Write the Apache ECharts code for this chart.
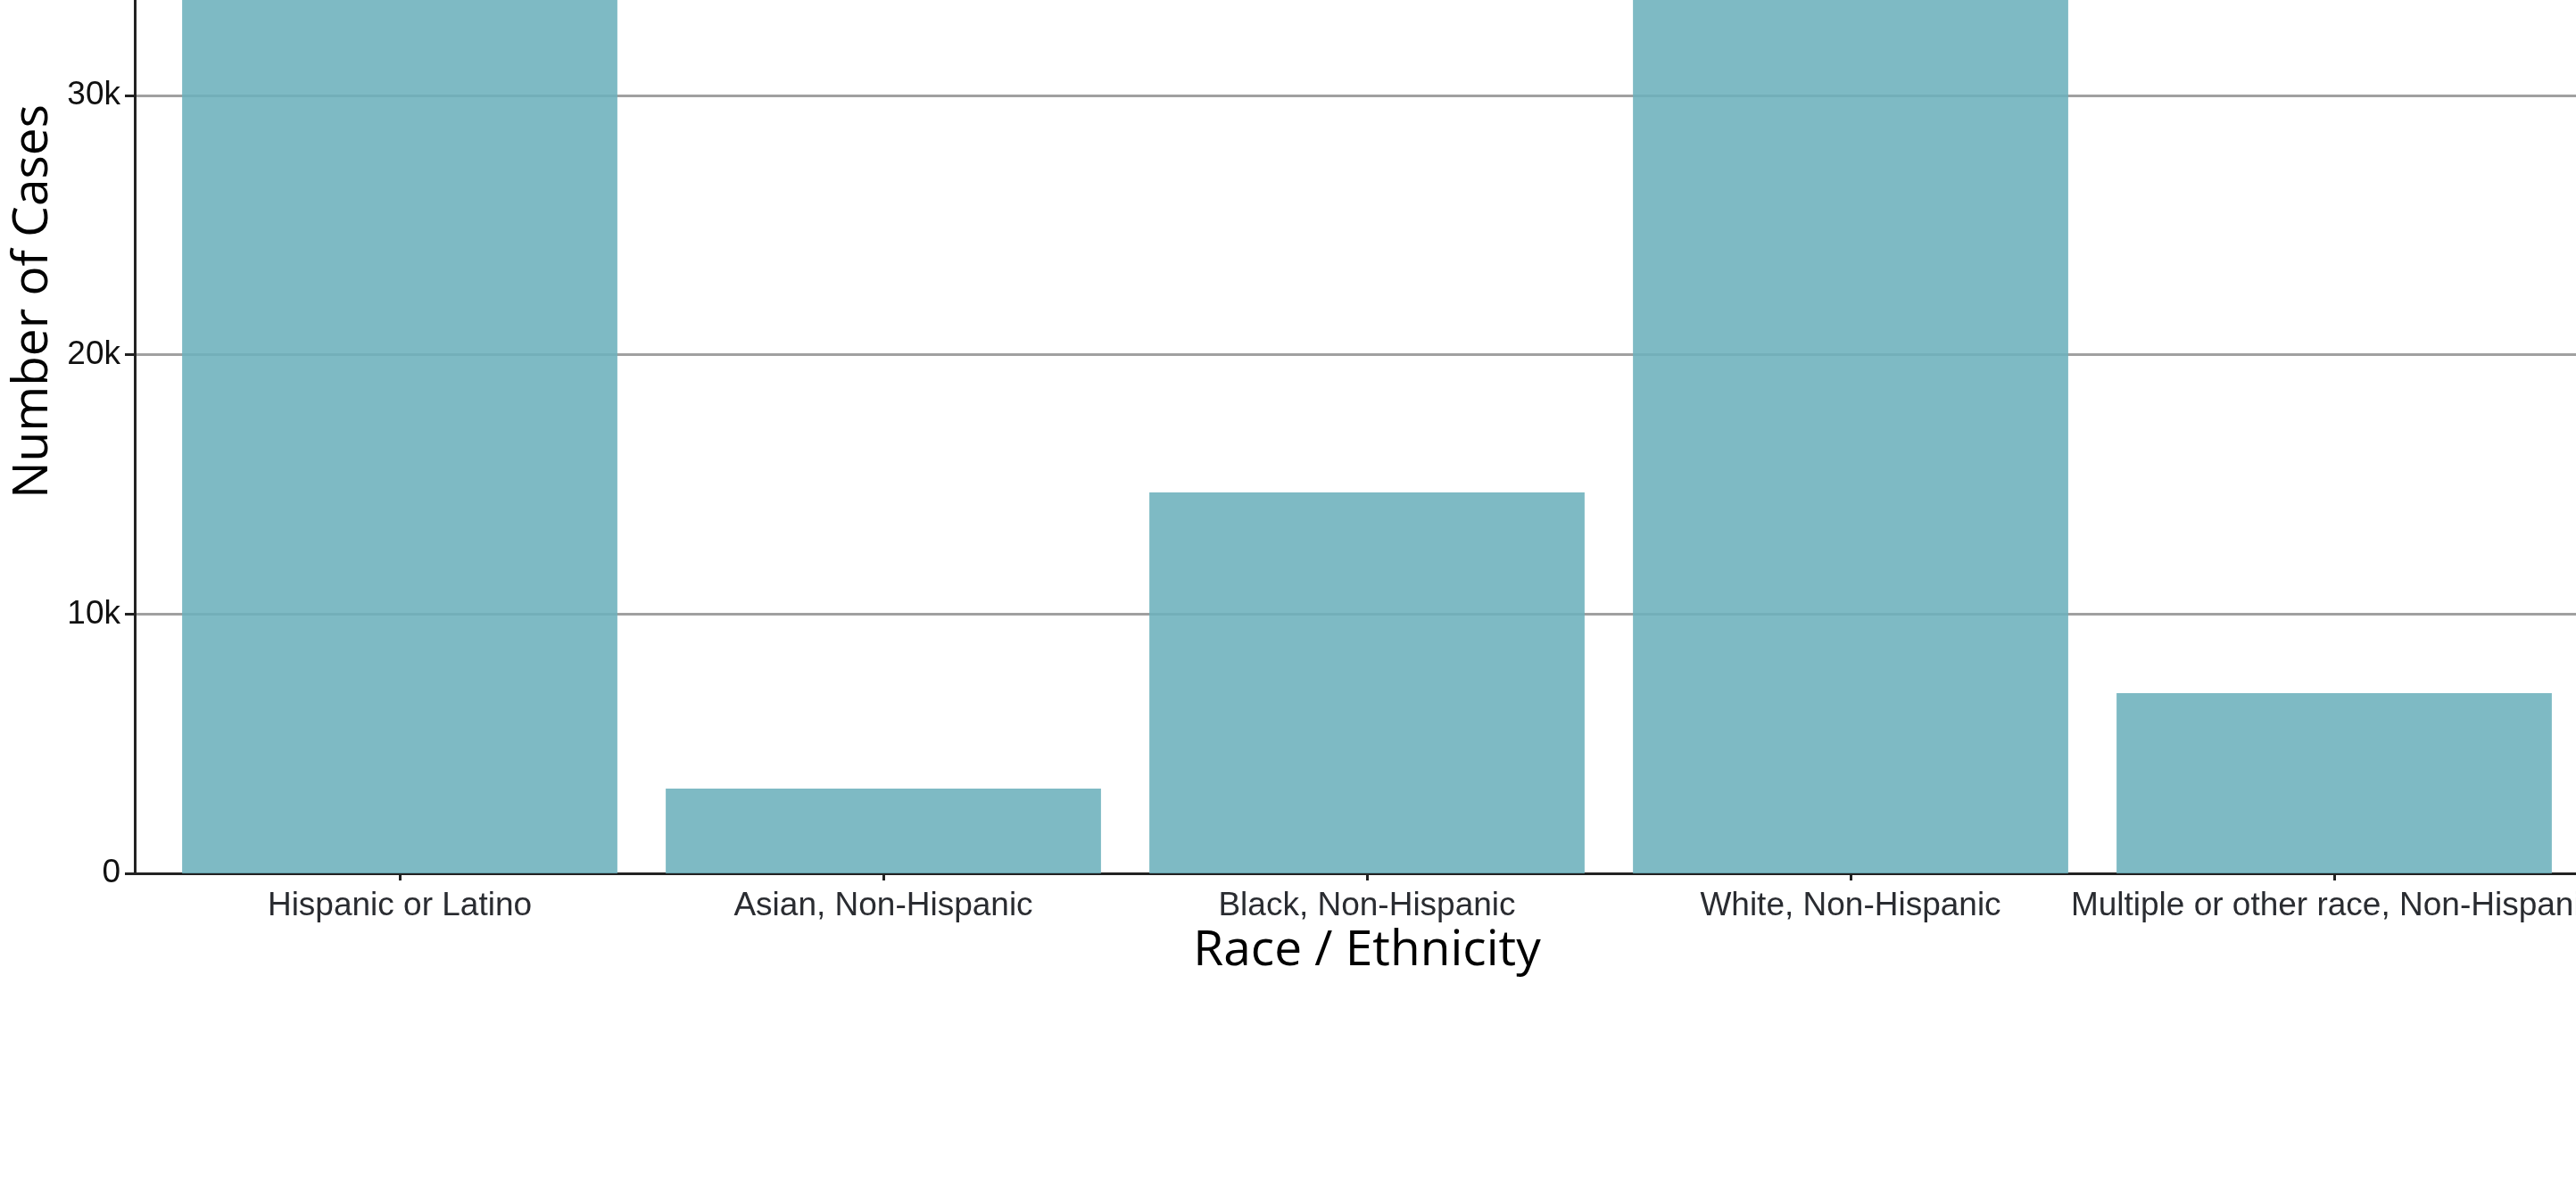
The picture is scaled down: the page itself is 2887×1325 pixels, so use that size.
<!DOCTYPE html>
<html>
<head>
<meta charset="utf-8">
<script src="https://cdn.jsdelivr.net/npm/echarts@6/dist/echarts.min.js"></script>
<style>
html,body{margin:0;padding:0;background:#fff;overflow:hidden;width:2887px;height:1325px;}
#wrap{position:relative;width:2887px;height:1325px;overflow:hidden;}
#chart{position:absolute;left:0;top:-303px;width:2887px;height:1628px;}
</style>
</head>
<body>
<div id="wrap"><div id="chart"></div></div>
<script>
const categories = ['Hispanic or Latino', 'Asian, Non-Hispanic', 'Black, Non-Hispanic', 'White, Non-Hispanic', 'Multiple or other race, Non-Hispanic'];
const cases = [42000, 3270, 14690, 38500, 6950];
const yTicks = [0, 10000, 20000, 30000, 40000];

const catIdx = categories.map((c, i) => i);
const barData = cases.map((v, i) => [i, v]);

const chart = echarts.init(document.getElementById('chart'));
chart.setOption({
  animation: false,
  backgroundColor: '#ffffff',
  grid: { left: 151, right: 0, top: 0, bottom: 346, containLabel: false, outerBoundsMode: 'none' },
  xAxis: {
    type: 'value',
    min: -0.548,
    max: 4.5,
    name: 'Race / Ethnicity',
    nameLocation: 'middle',
    nameGap: 59,
    nameTextStyle: { fontFamily: 'Open Sans', fontSize: 55, color: '#000', padding: [0, 0, 0, 26] },
    axisLine: { show: true, onZero: false, lineStyle: { color: '#222', width: 3 } },
    axisTick: { show: true, length: 8, customValues: catIdx, lineStyle: { color: '#222', width: 3 } },
    axisLabel: {
      fontFamily: 'Liberation Sans, Arial', fontSize: 37, color: '#2a2c31', margin: 18,
      customValues: catIdx,
      formatter: v => categories[Math.round(v)]
    },
    splitLine: { show: false }
  },
  yAxis: {
    type: 'value',
    min: yTicks[0],
    max: 44100,
    interval: 10000,
    name: 'Number of Cases',
    nameLocation: 'middle',
    nameGap: 75,
    nameRotate: 90,
    nameTextStyle: { fontFamily: 'Open Sans', fontSize: 55, color: '#000' },
    axisLine: { show: true, onZero: false, lineStyle: { color: '#222', width: 3 } },
    axisTick: { show: true, length: 11, lineStyle: { color: '#222', width: 3 } },
    axisLabel: {
      fontFamily: 'Liberation Sans, Arial', fontSize: 37, color: '#111', margin: 16,
      showMaxLabel: false,
      formatter: v => v === 0 ? '0' : (v / 1000) + 'k'
    },
    splitLine: { show: true, lineStyle: { color: '#a0a0a0', width: 3 } }
  },
  series: [{
    type: 'bar',
    data: barData,
    barWidth: '90%',
    itemStyle: { color: 'rgb(108,177,188)', opacity: 0.88 }
  }]
});
</script>
</body>
</html>
